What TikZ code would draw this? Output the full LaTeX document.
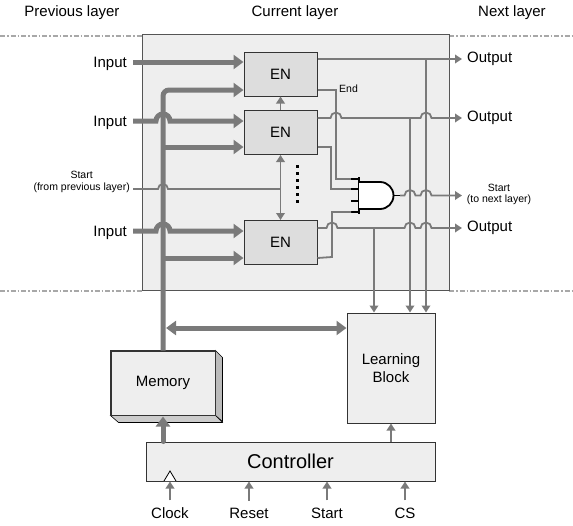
\documentclass[tikz,border=0pt]{standalone}
\usepackage{fontspec}
\setmainfont{Liberation Sans}
\usetikzlibrary{arrows.meta,calc}
\definecolor{wire}{HTML}{7A7A7A}
\definecolor{boxfill}{HTML}{EEEEEE}
\definecolor{enfill}{HTML}{DDDDDD}
\definecolor{dashc}{HTML}{A8A8A8}
\definecolor{edgec}{HTML}{333333}
\definecolor{layeredge}{HTML}{555555}
\definecolor{sidec}{HTML}{BBBBBB}
\definecolor{botc}{HTML}{CCCCCC}
\begin{document}
\begin{tikzpicture}[x=1pt,y=-1pt,
  wirestyle/.style={draw=wire,line width=1.8pt},
  warrow/.style={wirestyle,-{Triangle[length=7pt,width=8.5pt]}},
  wdarrow/.style={wirestyle,{Triangle[length=7pt,width=8.5pt]}-{Triangle[length=7pt,width=8.5pt]}},
  buswire/.style={draw=wire,line width=5pt},
  busarrow/.style={buswire,-{Triangle[length=10pt,width=14pt]}},
  busdarrow/.style={buswire,{Triangle[length=10pt,width=14pt]}-{Triangle[length=10pt,width=14pt]}},
  enbox/.style={draw=edgec,fill=enfill,line width=1pt,minimum width=73pt,minimum height=44pt,inner sep=0pt,font=\fontsize{15}{18}\selectfont},
  blockbox/.style={draw=edgec,fill=boxfill,line width=1pt,inner sep=0pt,align=center,font=\fontsize{15}{18}\selectfont},
  lbl/.style={font=\fontsize{15}{18}\selectfont,inner sep=0pt},
  smalltxt/.style={font=\fontsize{10.5}{11.5}\selectfont,inner sep=0pt,align=center},
  sepline/.style={draw=dashc,line width=1.2pt,dash pattern=on 5pt off 2pt on 1.5pt off 2pt},
  pin/.style={draw=black,line width=1.5pt},
]
\useasboundingbox[fill=white] (0,0) rectangle (573,525);

% headers
\node[lbl] (hprev) at (72,13) {Previous layer};
\node[lbl] (hcur) at (295,13) {Current layer};
\node[lbl] (hnext) at (512,13) {Next layer};

% separators
\draw[sepline] (0,36) -- (142,36);
\draw[sepline] (449,36) -- (573,36);
\draw[sepline] (0,291) -- (142,291);
\draw[sepline] (449,291) -- (573,291);

% current layer box
\node[draw=layeredge,fill=boxfill,line width=1pt,minimum width=307pt,minimum height=256pt,inner sep=0pt] (layer) at (295.5,162) {};

% EN blocks
\node[enbox] (en1) at (280.5,74) {EN};
\node[enbox] (en2) at (280.5,132.5) {EN};
\node[enbox] (en3) at (280.5,242.5) {EN};

% memory, learning block, controller
\node[blockbox,minimum width=104pt,minimum height=64pt] (mem) at (163,383) {Memory};
\fill[sidec,draw=black,line width=0.6pt] (mem.north east) -- ++(7,7) -- ++(0,64) -- (mem.south east) -- cycle;
\fill[botc,draw=black,line width=0.6pt] (mem.south west) -- (mem.south east) -- ++(7,7) -- ++(-104,0) -- cycle;
\draw[draw=edgec,line width=1pt] (mem.north west) rectangle (mem.south east);
\node[blockbox,minimum width=88pt,minimum height=110pt] (lb) at (391,368) {Learning\\Block};
\node[blockbox,minimum width=289pt,minimum height=39pt,font=\fontsize{20}{24}\selectfont] (ctrl) at (290.5,461.5) {Controller};

% bus
\coordinate (b1) at (163,90);
\coordinate (b2) at (163,147);
\coordinate (b3) at (163,258);
\coordinate (bmr) at (166,328);
\draw[busarrow,rounded corners=6pt] (mem.north) -- (b1) -- (b1 -| en1.west);
\draw[busarrow] (b2) -- (b2 -| en2.west);
\draw[busarrow] (b3) -- (b3 -| en3.west);
\draw[busdarrow] (bmr) -- (bmr -| lb.west);

% inputs
\node[lbl,anchor=base east] (in1) at (127,67) {Input};
\node[lbl,anchor=base east] (in2) at (127,126) {Input};
\node[lbl,anchor=base east] (in3) at (127,236) {Input};
\coordinate (a1) at (133,62);
\coordinate (a2) at (133,121);
\coordinate (a3) at (133,231);
\draw[busarrow] (a1) -- (a1 -| en1.west);
\draw[busarrow] (a2) -- (156,121) arc[start angle=180,end angle=0,radius=7pt] -- (a2 -| en2.west);
\draw[busarrow] (a3) -- (156,231) arc[start angle=180,end angle=0,radius=7pt] -- (a3 -| en3.west);

% start from previous layer
\node[smalltxt,anchor=east] (sprev) at (130,182) {Start\\(from previous layer)};
\coordinate (sp) at (133,189);
\coordinate (sj) at (280.5,189);
\draw[wirestyle] (sp) -- (158,189) arc[start angle=180,end angle=0,radius=5pt] -- (sj);
\draw[wdarrow] (en2.south) -- (en3.north);
\draw[warrow] (en2.north) -- (en1.south);
\draw[line width=3pt,dash pattern=on 3pt off 4pt] (297,165) -- (297,204);

% AND gate
\coordinate (g1) at (351,179);
\coordinate (g2) at (351,189);
\coordinate (g3) at (351,201);
\coordinate (g4) at (351,212);
\coordinate (gout) at (400,195.5);
\foreach \p in {g1,g2,g3,g4} \draw[pin] (\p) -- ++(8,0);
\draw[pin] (359,177) -- (359,214);
\draw[fill=white,line width=1.8pt] (359,182) -- (380,182) arc[start angle=90,end angle=-90,radius=13.5pt] -- (359,209);
\draw[pin] (393,195.5) -- (gout);

% outputs
\coordinate (o1) at (462,59);
\coordinate (o2) at (462,118);
\coordinate (o3) at (462,228);
\coordinate (o4) at (462,195.5);
\node[lbl,anchor=west] (out1) at (467,59) {Output};
\node[lbl,anchor=west] (out2) at (467,118) {Output};
\node[lbl,anchor=west] (out3) at (467,228) {Output};
\node[smalltxt] (snext) at (499,194.5) {Start\\(to next layer)};
\node[smalltxt,anchor=west] (endl) at (339,89) {End};

% EN1 wiring
\coordinate (j1) at (426,59);
\draw[warrow] (o1 -| en1.east) -- (o1);
\draw[warrow] (j1) -- (j1 |- lb.north);
\draw[wirestyle] (en1.east |- b1) -- (336,90) -- (336,179) -- (g1);

% EN2 wiring
\coordinate (j2) at (410,118);
\draw[warrow] (o2 -| en2.east) -- (330.5,118) arc[start angle=180,end angle=0,radius=5.5pt] -- (420.5,118) arc[start angle=180,end angle=0,radius=5.5pt] -- (o2);
\draw[warrow] (j2) -- (j2 |- lb.north);
\draw[wirestyle] (en2.east |- b2) -- (331,147) -- (331,189) -- (g2);

% EN3 wiring
\coordinate (j3) at (374,228);
\draw[warrow] (o3 -| en3.east) -- (326.5,228) arc[start angle=180,end angle=0,radius=5.5pt] -- (404.5,228) arc[start angle=180,end angle=0,radius=5.5pt] -- (420.5,228) arc[start angle=180,end angle=0,radius=5.5pt] -- (o3);
\draw[warrow] (j3) -- (j3 |- lb.north);
\draw[wirestyle] (en3.east |- b3) -- (332,257) -- (332,212) -- (g4);

% gate output
\draw[warrow] (gout) -- (404.5,195.5) arc[start angle=180,end angle=0,radius=5.5pt] -- (420.5,195.5) arc[start angle=180,end angle=0,radius=5.5pt] -- (o4);

% controller connections
\draw[busarrow,line cap=round] (ctrl.north -| mem.south) -- ([yshift=-1pt]mem.south);
\draw[warrow] (ctrl.north -| lb.south) -- (lb.south);
\draw[fill=white,line width=0.8pt] (164,481) -- (170,471) -- (176,481);

\node[lbl] (clk) at (170,513) {Clock};
\node[lbl] (rst) at (249,513) {Reset};
\node[lbl] (stt) at (327,513) {Start};
\node[lbl] (cs) at (405,513) {CS};
\foreach \n in {clk,rst,stt,cs} \draw[warrow] ([yshift=7pt]\n.north) -- (\n.north |- ctrl.south);
\end{tikzpicture}
\end{document}
